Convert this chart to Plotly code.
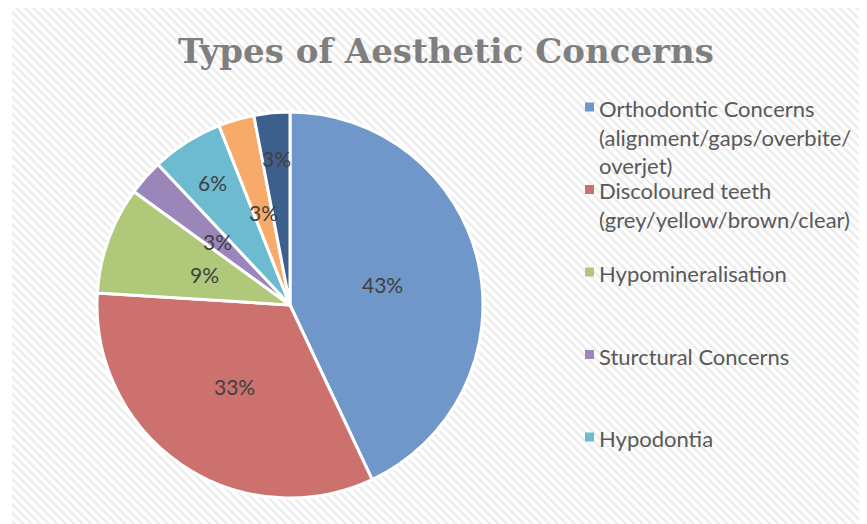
import math
import plotly.graph_objects as go

# ---- data ----
categories = [
    "Orthodontic Concerns (alignment/gaps/overbite/ overjet)",
    "Discoloured teeth (grey/yellow/brown/clear)",
    "Hypomineralisation",
    "Sturctural Concerns",
    "Hypodontia",
    "Dental Trauma",
    "Other",
]
values = [43, 33, 9, 3, 6, 3, 3]
legend_labels = [
    "Orthodontic Concerns<br>(alignment/gaps/overbite/<br>overjet)",
    "Discoloured teeth<br>(grey/yellow/brown/clear)",
    "Hypomineralisation",
    "Sturctural Concerns",
    "Hypodontia",
]
title_text = "Types of Aesthetic Concerns"

# ---- styles ----
colors = ["#7097c9", "#cc716e", "#afc879", "#9a86b8", "#6cbbd1", "#f8aa6a", "#3d5f8d"]
label_radius_frac = [0.49, 0.51, 0.47, 0.5, 0.75, 0.5, 0.76]
W, H = 867, 524
OFF = 8  # page body margin offset
cx, cy, R = 290 - OFF, 305 - OFF, 193
FONT = "Lato"

fig = go.Figure()

# hatched background panel
fig.add_trace(go.Scatter(
    x=[12 - OFF, W, W, 12 - OFF, 12 - OFF], y=[0, 0, H, H, 0],
    fill="toself", mode="none", hoverinfo="skip", showlegend=False,
    fillcolor="white",
    fillpattern=dict(shape="\\", fgcolor="#d8d8d8", bgcolor="white", size=6, solidity=0.38),
))

fig.add_trace(go.Pie(
    labels=categories, values=values, sort=False, direction="clockwise", rotation=0,
    marker=dict(colors=colors, line=dict(color="white", width=3)),
    textinfo="none", hoverinfo="label+percent", showlegend=False,
    domain=dict(x=[(cx - R) / W, (cx + R) / W], y=[(H - cy - R) / H, (H - cy + R) / H]),
))

annotations = []
total = sum(values)
cum = 0
for v, f in zip(values, label_radius_frac):
    theta = 2 * math.pi * (cum + v / 2) / total
    cum += v
    px = cx + f * R * math.sin(theta)
    py = cy - f * R * math.cos(theta)
    annotations.append(dict(
        x=px / W, y=1 - py / H, xref="paper", yref="paper",
        text=f"{round(100 * v / total)}%", showarrow=False,
        font=dict(family=FONT, size=21, color="#404040"),
        xanchor="center", yanchor="middle",
    ))

# manual legend (first five entries visible as in the reference)
shapes = []
slot_top = 93 - OFF
slot_h = 82.5
for i, lab in enumerate(legend_labels):
    top = slot_top + i * slot_h
    annotations.append(dict(
        x=(597 - OFF) / W, y=1 - top / H, xref="paper", yref="paper",
        text=lab, showarrow=False, align="left",
        font=dict(family=FONT, size=22, color="#595959"),
        xanchor="left", yanchor="top",
    ))
    sc = top + 14
    shapes.append(dict(
        type="rect", xref="paper", yref="paper",
        x0=(585 - OFF) / W, x1=(594 - OFF) / W, y0=1 - (sc + 4.5) / H, y1=1 - (sc - 4.5) / H,
        fillcolor=colors[i], line=dict(width=0),
    ))

annotations.append(dict(
    x=(445.5 - OFF) / W, y=1 - (51 - OFF) / H, xref="paper", yref="paper",
    text=f"<b>{title_text}</b>", showarrow=False,
    font=dict(family="DejaVu Serif", size=34, color="#7f7f7f"),
    xanchor="center", yanchor="middle",
))

fig.update_layout(
    width=W, height=H, margin=dict(l=0, r=0, t=0, b=0),
    paper_bgcolor="white", plot_bgcolor="rgba(0,0,0,0)",
    xaxis=dict(range=[0, W], visible=False, fixedrange=True, domain=[0, 1]),
    yaxis=dict(range=[H, 0], visible=False, fixedrange=True, domain=[0, 1]),
    annotations=annotations, shapes=shapes, showlegend=False,
)

fig.write_html("out.html")
